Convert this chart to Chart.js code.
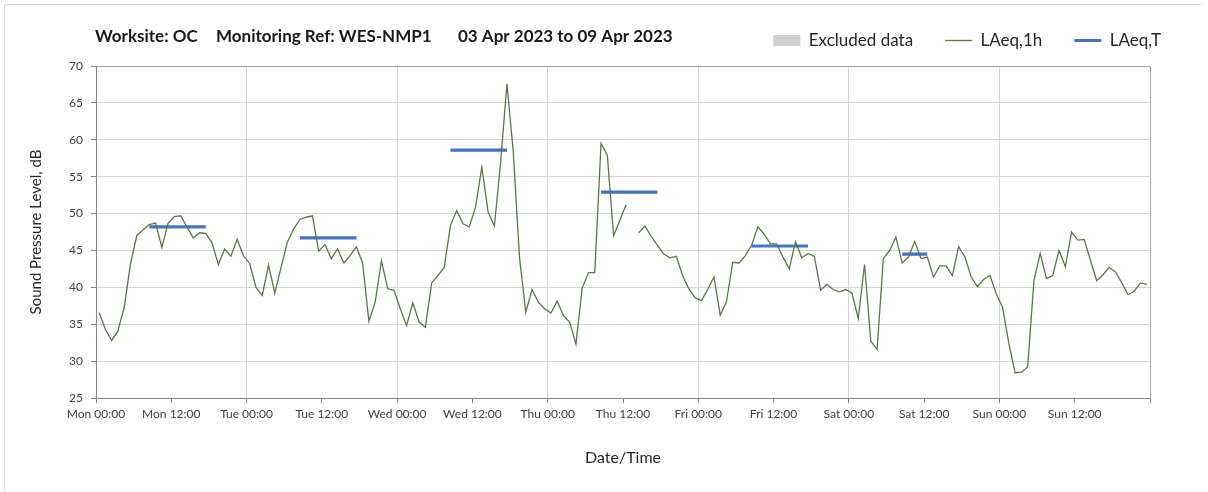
<!DOCTYPE html>
<html>
<head>
<meta charset="utf-8">
<title>WES-NMP1 noise monitoring</title>
<script src="https://cdn.jsdelivr.net/npm/chart.js@4.4.1/dist/chart.umd.min.js"></script>
<style>
  html, body { margin: 0; padding: 0; background: #fff; }
  #wrap { position: relative; width: 1208px; height: 492px; overflow: hidden; }
  #frame { position: absolute; left: 4px; top: 4px; width: 1196px; height: 500px;
           border-top: 1px solid #d9d9d9; border-left: 1px solid #d9d9d9; pointer-events: none; }
</style>
</head>
<body>
<div id="wrap">
  <canvas id="noiseChart" width="1208" height="492"></canvas>
  <div id="frame"></div>
</div>
<script>
// header text, drawn in three blocks like the report template
const titleParts = ['Worksite: OC', 'Monitoring Ref: WES-NMP1', '03 Apr 2023 to 09 Apr 2023'];

// x axis: hours from Mon 00:00, labelled every 12 h
const tickLabels = ['Mon 00:00', 'Mon 12:00', 'Tue 00:00', 'Tue 12:00', 'Wed 00:00', 'Wed 12:00',
  'Thu 00:00', 'Thu 12:00', 'Fri 00:00', 'Fri 12:00', 'Sat 00:00', 'Sat 12:00', 'Sun 00:00', 'Sun 12:00', ''];

// hourly LAeq,1h (dB), 168 hours starting Mon 00:00; null = no measurement
const laeq1h = [
  36.6, 34.3, 32.8, 34.1, 37.3, 43.2, 47.0, 47.8, 48.5, 48.7,
  45.4, 48.7, 49.6, 49.7, 48.2, 46.7, 47.4, 47.3, 46.0, 43.1,
  45.2, 44.2, 46.5, 44.3, 43.2, 40.0, 38.9, 43.0, 39.2, 42.7,
  46.1, 47.9, 49.2, 49.5, 49.7, 44.9, 45.8, 43.9, 45.2, 43.3,
  44.3, 45.5, 43.3, 35.4, 38.0, 43.6, 39.8, 39.6, 37.1, 34.8,
  37.9, 35.3, 34.6, 40.6, 41.6, 42.7, 48.4, 50.4, 48.6, 48.2,
  50.9, 56.3, 50.2, 48.3, 57.0, 67.6, 58.5, 44.1, 36.6, 39.7,
  38.0, 37.1, 36.5, 38.1, 36.2, 35.3, 32.3, 39.9, 42.0, 42.0,
  59.5, 57.9, 47.0, 49.1, 51.2, null, 47.4, 48.3, 46.9, 45.7,
  44.5, 44.0, 44.2, 41.6, 39.8, 38.6, 38.2, 39.7, 41.4, 36.2,
  38.1, 43.4, 43.3, 44.3, 45.7, 48.2, 47.2, 45.9, 45.9, 44.1,
  42.5, 46.2, 44.0, 44.6, 44.2, 39.6, 40.4, 39.7, 39.4, 39.7,
  39.2, 35.8, 43.1, 32.7, 31.6, 43.9, 45.0, 46.8, 43.3, 44.1,
  46.2, 43.9, 44.1, 41.4, 42.9, 42.9, 41.6, 45.5, 44.1, 41.4,
  40.1, 41.1, 41.6, 39.1, 37.3, 32.4, 28.4, 28.5, 29.2, 40.9,
  44.6, 41.2, 41.6, 45.0, 42.8, 47.5, 46.4, 46.5, 43.7, 40.9,
  41.7, 42.7, 42.1, 40.6, 39.0, 39.5, 40.6, 40.4
];

// LAeq,T over each working period (first and last hour index, level in dB)
const periodStart = [8, 32, 56, 80, 104, 128];
const periodEnd = [17, 41, 65, 89, 113, 132];
const periodLevel = [48.2, 46.7, 58.6, 52.9, 45.6, 44.5];

// hourly values sit in the middle of their hour
const hourlyPoints = laeq1h.map((v, i) => ({ x: i + 0.5, y: v }));

const periodPoints = [];
periodStart.forEach((s, k) => {
  periodPoints.push({ x: s + 0.5, y: periodLevel[k] });
  periodPoints.push({ x: periodEnd[k] + 0.5, y: periodLevel[k] });
  periodPoints.push({ x: periodEnd[k] + 1, y: null });
});

const headerTitle = {
  id: 'headerTitle',
  afterDraw(chart) {
    const ctx = chart.ctx;
    const xs = [95, 216, 458];
    ctx.save();
    ctx.font = 'bold 17px Lato';
    ctx.fillStyle = '#1a1a1a';
    ctx.textBaseline = 'middle';
    titleParts.forEach((t, i) => ctx.fillText(t, xs[i], 37));
    ctx.restore();
  }
};

new Chart(document.getElementById('noiseChart'), {
  type: 'line',
  data: {
    datasets: [{
      label: 'Excluded data',
      data: [],
      backgroundColor: '#d0d0d0',
      borderColor: '#d0d0d0',
      borderWidth: 0,
      pointBorderWidth: 0,
      pointStyle: 'rect'
    }, {
      label: 'LAeq,1h',
      data: hourlyPoints,
      borderColor: '#557a43',
      backgroundColor: '#557a43',
      borderWidth: 1.3,
      pointBorderWidth: 1.3,
      pointRadius: 0,
      pointStyle: 'line',
      tension: 0,
      spanGaps: false
    }, {
      label: 'LAeq,T',
      data: periodPoints,
      borderColor: '#4472c4',
      backgroundColor: '#4472c4',
      borderWidth: 3.2,
      pointBorderWidth: 3,
      pointRadius: 0,
      pointStyle: 'line',
      tension: 0,
      spanGaps: false
    }]
  },
  options: {
    responsive: false,
    maintainAspectRatio: false,
    animation: false,
    layout: { padding: { top: 0, left: 0, right: 15, bottom: 0 } },
    plugins: {
      legend: {
        position: 'top',
        align: 'end',
        labels: {
          usePointStyle: true,
          pointStyleWidth: 27,
          boxHeight: 11,
          padding: 32,
          color: '#262626',
          font: { family: 'Lato', size: 17 }
        }
      },
      tooltip: { enabled: false }
    },
    scales: {
      x: {
        type: 'linear',
        min: 0,
        max: 168,
        afterFit: s => { s.height = 94; },
        ticks: {
          stepSize: 12,
          autoSkip: false,
          maxRotation: 0,
          padding: 4,
          color: '#404040',
          font: { family: 'Lato', size: 12 },
          callback: v => tickLabels[Math.round(v / 12)] ?? ''
        },
        grid: {
          // vertical lines only at midnight; the 12 h ticks keep their marks
          color: c => c.tick && c.tick.value % 24 === 0 ? (c.tick.value === 168 ? '#a6a6a6' : '#d4d4d4') : 'rgba(0,0,0,0)',
          tickColor: '#868686',
          tickLength: 5
        },
        border: { color: '#868686' },
        title: {
          display: true,
          text: 'Date/Time',
          color: '#262626',
          font: { family: 'Lato', size: 16 },
          padding: { top: 0, bottom: 25 }
        }
      },
      y: {
        min: 25,
        max: 70,
        afterFit: s => { s.width = 96; },
        ticks: {
          stepSize: 5,
          padding: 8,
          color: '#404040',
          font: { family: 'Lato', size: 12 }
        },
        grid: {
          color: c => c.tick && c.tick.value === 70 ? '#a6a6a6' : '#d4d4d4',
          tickColor: '#868686',
          tickLength: 5
        },
        border: { color: '#868686' },
        title: {
          display: true,
          text: 'Sound Pressure Level, dB',
          color: '#262626',
          font: { family: 'Lato', size: 15 },
          padding: { top: 27, bottom: 0 }
        }
      },
      // empty axes that only reserve the gap above and to the right of the plot
      xTop: {
        type: 'linear',
        position: 'top',
        afterFit: s => { s.height = 7; },
        ticks: { display: false },
        grid: { display: false },
        border: { display: false }
      },
      yRight: {
        type: 'linear',
        position: 'right',
        afterFit: s => { s.width = 43; },
        ticks: { display: false },
        grid: { display: false },
        border: { display: false }
      }
    }
  },
  plugins: [headerTitle]
});
</script>
</body>
</html>
